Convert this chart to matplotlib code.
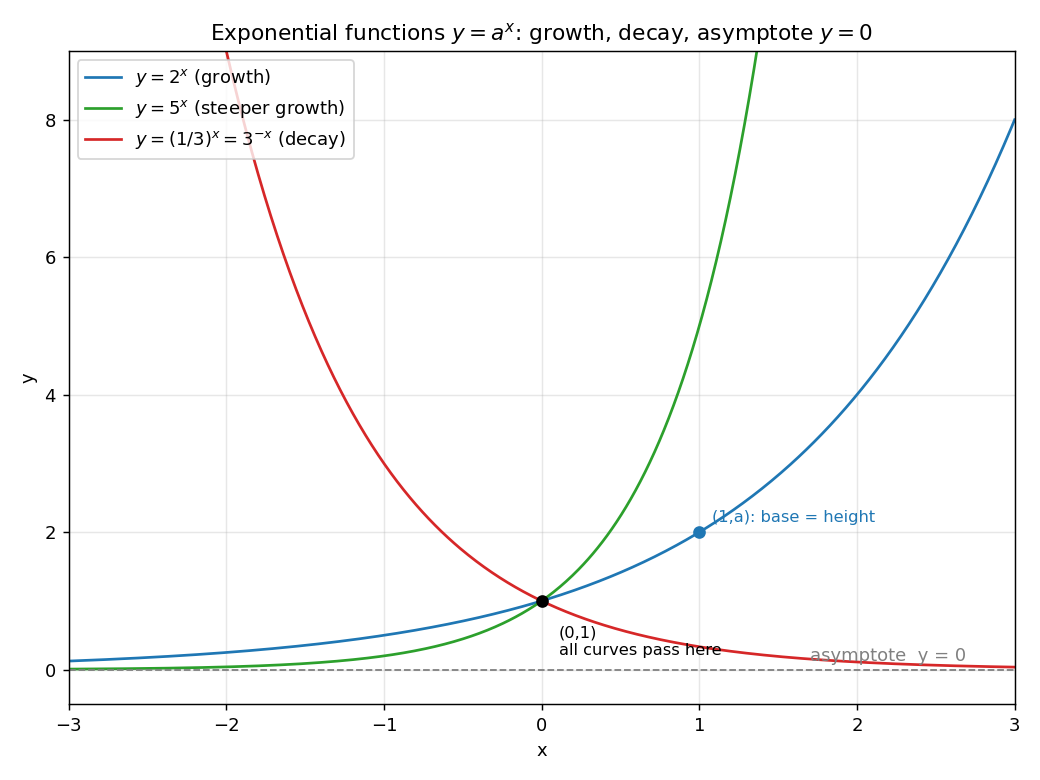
import numpy as np
import matplotlib
matplotlib.use("Agg")
import matplotlib.pyplot as plt

# Chart definition
x_range = (-3, 3)
bases = [2, 5, 1/3]
labels = [r"$y = 2^x$ (growth)", r"$y = 5^x$ (steeper growth)", r"$y = (1/3)^x = 3^{-x}$ (decay)"]
colors = ["#1f77b4", "#2ca02c", "#d62728"]
common_point = (0, 1)
base_point = (1, 2)

fig = plt.figure(figsize=(8, 6), dpi=130)
ax = fig.add_axes([0.066, 0.0974, 0.9096, 0.8372])

x = np.linspace(x_range[0], x_range[1], 600)
for b, lab, c in zip(bases, labels, colors):
    ax.plot(x, b ** x, color=c, lw=1.5, label=lab)

ax.axhline(0, color="gray", ls="--", lw=1)
ax.plot(*common_point, "o", color="black", ms=6, zorder=5)
ax.plot(*base_point, "o", color="#1f77b4", ms=6, zorder=5)

ax.text(1.08, 2.1, "(1,a): base = height", color="#1f77b4", fontsize=9, va="bottom")
ax.text(0.11, 0.17, "(0,1)\nall curves pass here", color="black", fontsize=9, va="bottom")
ax.text(1.7, 0.07, "asymptote  y = 0", color="gray", fontsize=10, va="bottom")

ax.set_xlim(*x_range)
ax.set_ylim(-0.5, 9)
ax.set_xticks([-3, -2, -1, 0, 1, 2, 3])
ax.set_yticks([0, 2, 4, 6, 8])
ax.grid(True, alpha=0.3)
ax.set_xlabel("x")
ax.set_ylabel("y")
ax.set_title(r"Exponential functions $y = a^x$: growth, decay, asymptote $y = 0$")
ax.legend(loc="upper left")

fig.savefig("out.png", dpi=130)
